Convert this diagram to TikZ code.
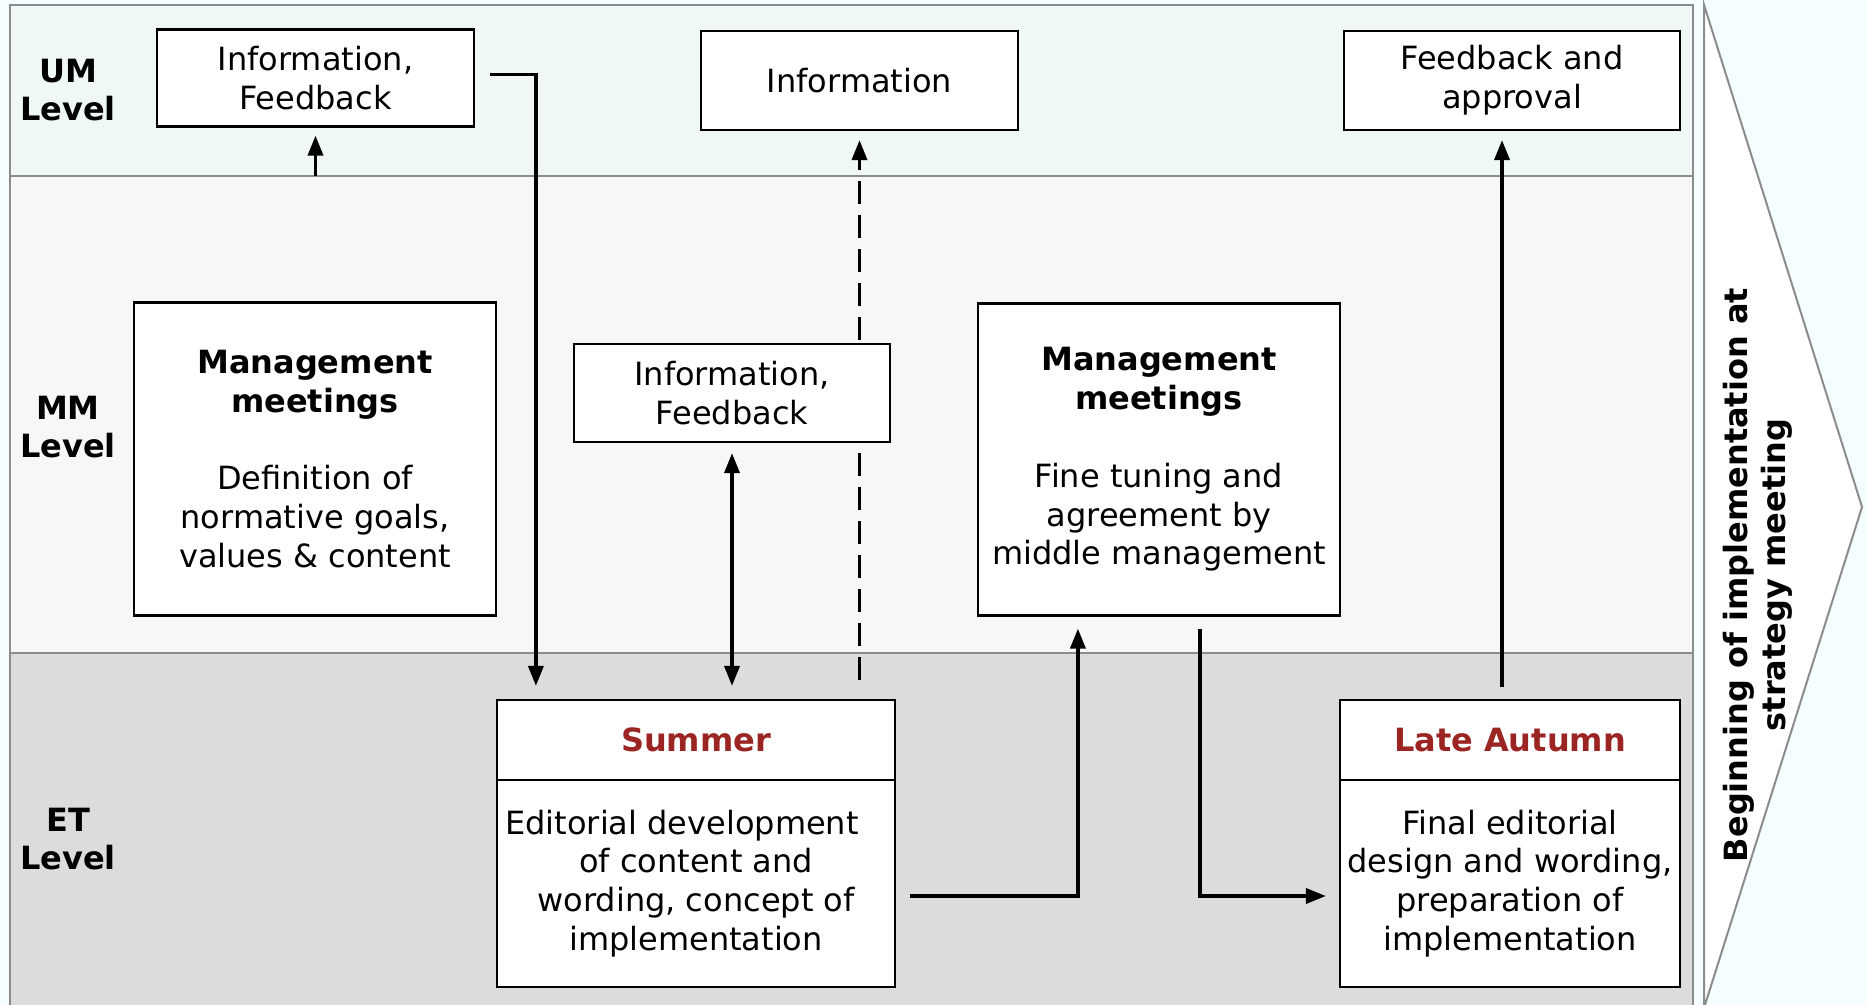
\documentclass[tikz,border=0pt]{standalone}
\usepackage{fontspec}
\setmainfont{DejaVu Sans}
\usetikzlibrary{arrows.meta,calc}

\definecolor{pagebg}{HTML}{F5FEFE}
\definecolor{umfill}{HTML}{F0F8F7}
\definecolor{mmfill}{HTML}{F7F7F7}
\definecolor{etfill}{HTML}{DCDCDC}
\definecolor{framegray}{HTML}{8C8C8C}
\definecolor{season}{HTML}{9B2522}

\pgfdeclarelayer{back}
\pgfdeclarelayer{links}
\pgfsetlayers{back,links,main}

\begin{document}
\begin{tikzpicture}[x=0.5pt,y=-0.5pt,
  box/.style={draw=black, line width=1.1pt, fill=white, align=center,
    inner sep=0pt, font=\fontsize{16}{19.4}\selectfont},
  lvl/.style={align=center, inner sep=0pt, font=\bfseries\fontsize{16}{19}\selectfont},
  head/.style={box, font=\bfseries\fontsize{16}{19}\selectfont, text=season},
  tip/.tip={Triangle[length=10pt,width=7.5pt]},
  flow/.style={line width=1.8pt, -tip},
  bandline/.style={draw=framegray, line width=1pt},
]
\useasboundingbox (0,0) rectangle (1866,1005);

% page, swim lanes and closing chevron
\begin{pgfonlayer}{back}
  \fill[pagebg] (0,0) rectangle (1866,1005);
  \fill[umfill] (10,4.8) rectangle (1693,176);
  \fill[mmfill] (10,176) rectangle (1693,653);
  \fill[etfill] (10,653) rectangle (1693,1005);
  \draw[bandline] (10,1005) -- (10,4.8) -- (1693,4.8) -- (1693,1005);
  \draw[bandline] (10,176) -- (1693,176);
  \draw[bandline] (10,653) -- (1693,653);
  \filldraw[fill=white, draw=framegray, line width=1pt]
    (1704,4.8) -- (1862,507) -- (1704,1008) -- cycle;
\end{pgfonlayer}

% level labels
\node[lvl] (um) at (68,90)  {UM\\Level};
\node[lvl] (mm) at (68,427) {MM\\Level};
\node[lvl] (et) at (68,839) {ET\\Level};

% upper management
\node[box, minimum width=158.5pt, minimum height=48.5pt] (b1) at (315.5,78)
  {Information,\\Feedback};
\node[box, minimum width=158.5pt, minimum height=49.5pt] (b2) at (859.5,80.5)
  {Information};
\node[box, minimum width=168pt, minimum height=49.5pt] (b3) at (1512,80.5)
  {Feedback and\\approval};

% middle management
\node[box, minimum width=181pt, minimum height=156.5pt] (b4) at (315,459)
  {\textbf{Management}\\\textbf{meetings}\\[19.4pt]Definition of\\normative goals,\\values \& content};
\node[box, minimum width=158pt, minimum height=49pt] (b5) at (732,393)
  {Information,\\Feedback};
\node[box, minimum width=181pt, minimum height=156pt] (b6) at (1159,459.5)
  {\textbf{Management}\\\textbf{meetings}\\[19.4pt]Fine tuning and\\agreement by\\middle management};

% editorial team
\node[head, minimum width=199pt, minimum height=40pt] (sumhd) at (696,740) {Summer};
\node[box, minimum width=199pt, minimum height=103.5pt] (sumbd) at (696,883.5)
  {Editorial development\hspace*{14pt}\\of content and\\wording, concept of\\implementation};
\node[head, minimum width=170pt, minimum height=40pt] (lahd) at (1510,740) {Late Autumn};
\node[box, minimum width=170pt, minimum height=103.5pt] (labd) at (1510,883.5)
  {Final editorial\\design and wording,\\preparation of\\implementation};

% side heading
\node[lvl, rotate=90] (start) at (1758,575)
  {Beginning of implementation at\\strategy meeting};

% connectors
\coordinate (umbase) at (0,176);
\coordinate (dashfoot) at ($(sumhd.north -| b2.south)+(0,-19)$);
\coordinate (edrop) at ($(b6.south west)+(101,0)$);
\coordinate (fdrop) at ($(b6.south west)+(223,0)$);
\coordinate (gfoot) at ($(lahd.north)+(-8,0)$);

\begin{pgfonlayer}{links}
  \draw[flow, shorten >=4pt] (b1.south |- umbase) -- (b1.south);
  \draw[flow, shorten <=7.5pt, shorten >=6.5pt]
    ($(b1.east)+(0,-3.5)$) -| ($(sumhd.north west)+(40,0)$);
  \draw[line width=1.8pt, tip-tip, shorten <=5pt, shorten >=6.5pt]
    (b5.south) -- (sumhd.north -| b5.south);
  \draw[flow, dash pattern=on 11.5pt off 5.5pt, shorten >=4.5pt]
    (dashfoot) -- (b2.south);
  \draw[flow, shorten <=7pt, shorten >=6pt]
    ($(sumbd.east)+(0,12.5)$) -| (edrop);
  \draw[flow, shorten <=6pt, shorten >=6.5pt]
    (fdrop) |- ($(labd.west)+(0,12.5)$);
  \draw[flow, shorten <=6pt, shorten >=4.5pt]
    (gfoot) -- (b3.south -| gfoot);
\end{pgfonlayer}
\end{tikzpicture}
\end{document}
